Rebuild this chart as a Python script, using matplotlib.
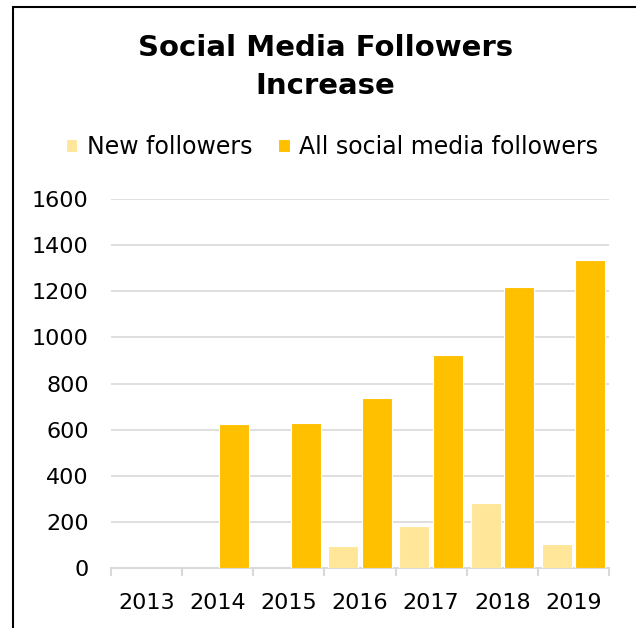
import numpy as np
import matplotlib
matplotlib.use('Agg')
import matplotlib.pyplot as plt
from matplotlib.patches import Rectangle

years = ['2013', '2014', '2015', '2016', '2017', '2018', '2019']
new_followers = [0, 0, 0, 95, 180, 280, 105]
all_followers = [0, 625, 628, 735, 925, 1220, 1335]

plt.rcParams['font.family'] = ['DejaVu Sans']

fig = plt.figure(figsize=(6.36, 6.28), dpi=100)
ax = fig.add_axes([111 / 636, 1 - 568 / 628, 498 / 636, 369 / 628])

x = np.arange(len(years))
w = 0.42
ax.bar(x - 0.235, new_followers, w, color='#FFE699', edgecolor='white',
       linewidth=0.8, label='New followers', zorder=3)
ax.bar(x + 0.235, all_followers, w, color='#FFC000', edgecolor='white',
       linewidth=0.8, label='All social media followers', zorder=3)

ax.set_xlim(-0.5, len(years) - 0.5)
ax.set_ylim(0, 1600)
ax.set_yticks(range(0, 1601, 200))
ax.set_xticks(x)
ax.set_xticklabels(years)
ax.set_xticks(np.arange(-0.5, len(years)), minor=True)

ax.yaxis.grid(True, color='#d9d9d9', linewidth=1.2, zorder=0)
ax.set_axisbelow(True)
for s in ['top', 'right', 'left']:
    ax.spines[s].set_visible(False)
ax.spines['bottom'].set_color('#d9d9d9')
ax.spines['bottom'].set_linewidth(1.5)

ax.tick_params(axis='y', length=0, pad=16, labelsize=16)
ax.tick_params(axis='x', which='major', length=0, pad=18, labelsize=16)
ax.tick_params(axis='x', which='minor', length=6, width=1.5, color='#d9d9d9')

fig.text(0.512, 1 - 67 / 628, 'Social Media Followers\nIncrease', ha='center',
         va='center', fontsize=21, fontweight='bold', linespacing=1.5)

fig.legend(loc='center', bbox_to_anchor=(0.522, 1 - 147 / 628), ncol=2,
           frameon=False, fontsize=17, handlelength=0.5, handleheight=0.5,
           handletextpad=0.4, columnspacing=1.1)

fig.patches.append(Rectangle((13 / 636, -0.1), 1.2, 1.1 - 7 / 628,
                             transform=fig.transFigure, fill=False,
                             edgecolor='black', linewidth=1.5))

fig.savefig('out.png', dpi=100)
